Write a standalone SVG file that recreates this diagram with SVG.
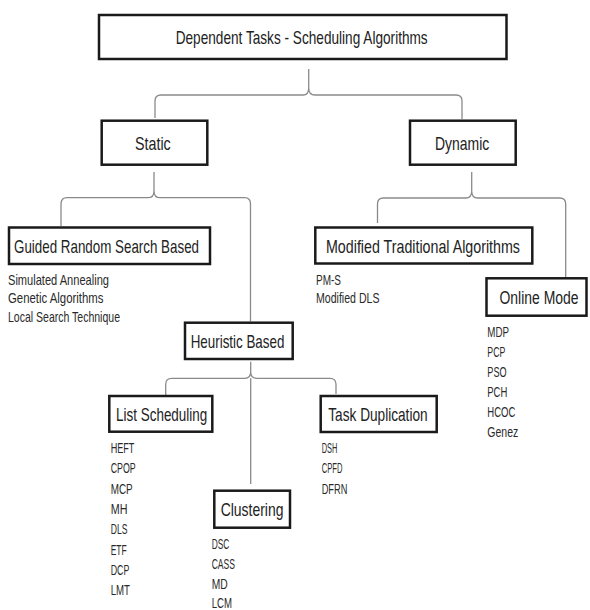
<svg xmlns="http://www.w3.org/2000/svg" width="590" height="610" viewBox="0 0 590 610">
<style>
.box{fill:#fff;stroke:#1a1a1a;stroke-width:2.5}
.t{font-family:"Liberation Sans",Arial,sans-serif;font-size:19px;fill:#222}
.l{font-family:"Liberation Sans",Arial,sans-serif;font-size:15px;fill:#2a2a2a}
.c{fill:none;stroke:#8a8a8a;stroke-width:1.3}
</style>
<rect width="590" height="610" fill="#fff"/>
<g id="connectors">
<path class="c" d="M155 118 L155 101 Q155 95 161 95 L303 95 Q308.7 95 308.7 88 L308.7 69 M308.7 88 Q308.7 95 315 95 L456 95 Q462 95 462 101 L462 119"/>
<path class="c" d="M61 226 L61 204 Q61 197.7 67 197.7 L148 197.7 Q154 197.7 154 191 L154 172 M154 191 Q154 197.7 160 197.7 L244.5 197.7 Q250.5 197.7 250.5 204 L250.5 321.5"/>
<path class="c" d="M377.5 223 L377.5 204 Q377.5 198 383.5 198 L465.7 198 Q471.7 198 471.7 191 L471.7 172 M471.7 191 Q471.7 198 477.7 198 L559.7 198 Q565.7 198 565.7 204 L565.7 277"/>
<path class="c" d="M165.7 395 L165.7 384.3 Q165.7 378.3 171.7 378.3 L244.7 378.3 Q250.7 378.3 250.7 372 L250.7 361.7 M250.7 372 Q250.7 378.3 256.7 378.3 L330 378.3 Q336 378.3 336 384.3 L336 394"/>
<path class="c" d="M250.7 378.3 L250.7 484"/>
</g>
<g id="root">
<rect class="box" x="99" y="15" width="407.5" height="44"/>
<text class="t" x="175.7" y="43.5" textLength="252" lengthAdjust="spacingAndGlyphs">Dependent Tasks - Scheduling Algorithms</text>
</g>
<g id="static">
<rect class="box" x="101.7" y="120.7" width="105.6" height="44"/>
<text class="t" x="135" y="150" textLength="35.7" lengthAdjust="spacingAndGlyphs">Static</text>
</g>
<g id="dynamic">
<rect class="box" x="410" y="120.7" width="105.7" height="44"/>
<text class="t" x="435" y="150" textLength="54.3" lengthAdjust="spacingAndGlyphs">Dynamic</text>
</g>
<g id="guided">
<rect class="box" x="9" y="227.5" width="201" height="36.5"/>
<text class="t" x="14" y="253.3" textLength="185" lengthAdjust="spacingAndGlyphs">Guided Random Search Based</text>
<text class="l" x="8" y="285" textLength="101" lengthAdjust="spacingAndGlyphs">Simulated Annealing</text>
<text class="l" x="8" y="303.3" textLength="95.5" lengthAdjust="spacingAndGlyphs">Genetic Algorithms</text>
<text class="l" x="8" y="321.7" textLength="112" lengthAdjust="spacingAndGlyphs">Local Search Technique</text>
</g>
<g id="modified">
<rect class="box" x="315.3" y="227.5" width="217" height="36"/>
<text class="t" x="326" y="253.3" textLength="194" lengthAdjust="spacingAndGlyphs">Modified Traditional Algorithms</text>
<text class="l" x="316" y="284.5" textLength="25" lengthAdjust="spacingAndGlyphs">PM-S</text>
<text class="l" x="316" y="303" textLength="63.5" lengthAdjust="spacingAndGlyphs">Modified DLS</text>
</g>
<g id="online">
<rect class="box" x="486.5" y="278.3" width="100" height="37.4"/>
<text class="t" transform="translate(499.5 304) scale(0.734 1)" x="0" y="0">Online Mode</text>
<text class="l" x="487.3" y="337" textLength="21.7" lengthAdjust="spacingAndGlyphs">MDP</text>
<text class="l" x="487.3" y="357" textLength="18" lengthAdjust="spacingAndGlyphs">PCP</text>
<text class="l" x="487.3" y="377" textLength="19.3" lengthAdjust="spacingAndGlyphs">PSO</text>
<text class="l" x="487.3" y="397" textLength="20" lengthAdjust="spacingAndGlyphs">PCH</text>
<text class="l" x="487.3" y="417" textLength="28" lengthAdjust="spacingAndGlyphs">HCOC</text>
<text class="l" x="487.3" y="437" textLength="31" lengthAdjust="spacingAndGlyphs">Genez</text>
</g>
<g id="heuristic">
<rect class="box" x="185" y="322.7" width="107.7" height="36.3"/>
<text class="t" x="190.7" y="348" textLength="93.7" lengthAdjust="spacingAndGlyphs">Heuristic Based</text>
</g>
<g id="list">
<rect class="box" x="109.3" y="396" width="103" height="35.7"/>
<text class="t" x="116" y="421" textLength="91.3" lengthAdjust="spacingAndGlyphs">List Scheduling</text>
<text class="l" x="110.7" y="453" textLength="23.7" lengthAdjust="spacingAndGlyphs">HEFT</text>
<text class="l" x="110.7" y="473.3" textLength="25" lengthAdjust="spacingAndGlyphs">CPOP</text>
<text class="l" x="110.7" y="493.6" textLength="22" lengthAdjust="spacingAndGlyphs">MCP</text>
<text class="l" x="110.7" y="514" textLength="16.7" lengthAdjust="spacingAndGlyphs">MH</text>
<text class="l" x="110.7" y="534.3" textLength="16.7" lengthAdjust="spacingAndGlyphs">DLS</text>
<text class="l" x="110.7" y="554.6" textLength="16" lengthAdjust="spacingAndGlyphs">ETF</text>
<text class="l" x="110.7" y="575" textLength="18.7" lengthAdjust="spacingAndGlyphs">DCP</text>
<text class="l" x="110.7" y="595.3" textLength="19.3" lengthAdjust="spacingAndGlyphs">LMT</text>
</g>
<g id="clustering">
<rect class="box" x="214.3" y="490.7" width="75.7" height="37"/>
<text class="t" x="220.7" y="516" textLength="62.7" lengthAdjust="spacingAndGlyphs">Clustering</text>
<text class="l" x="211.7" y="549.3" textLength="17.7" lengthAdjust="spacingAndGlyphs">DSC</text>
<text class="l" x="211.7" y="569.3" textLength="23.3" lengthAdjust="spacingAndGlyphs">CASS</text>
<text class="l" x="211.7" y="589.3" textLength="16" lengthAdjust="spacingAndGlyphs">MD</text>
<text class="l" x="211.7" y="608" textLength="20.3" lengthAdjust="spacingAndGlyphs">LCM</text>
</g>
<g id="duplication">
<rect class="box" x="320.7" y="396" width="116" height="36"/>
<text class="t" x="328.3" y="421" textLength="99.3" lengthAdjust="spacingAndGlyphs">Task Duplication</text>
<text class="l" x="321.7" y="453" textLength="15.7" lengthAdjust="spacingAndGlyphs">DSH</text>
<text class="l" x="321.7" y="473.3" textLength="20.7" lengthAdjust="spacingAndGlyphs">CPFD</text>
<text class="l" x="321.7" y="493.6" textLength="25.7" lengthAdjust="spacingAndGlyphs">DFRN</text>
</g>
</svg>
